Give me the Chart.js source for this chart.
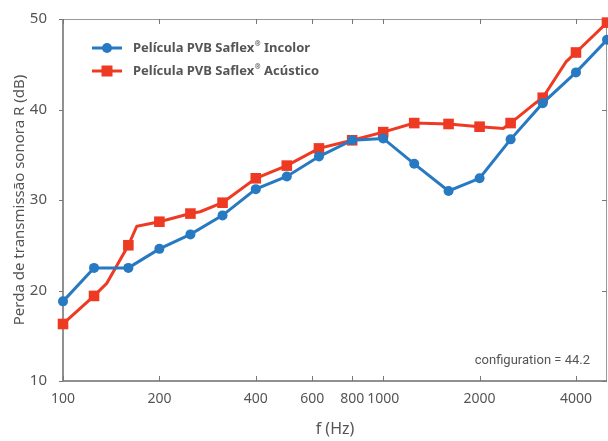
<!DOCTYPE html>
<html>
<head>
<meta charset="utf-8">
<script src="https://cdn.jsdelivr.net/npm/chart.js@4.4.1/dist/chart.umd.min.js"></script>
<style>
html, body { margin: 0; padding: 0; background: #fff; }
</style>
</head>
<body>
<canvas id="chart" width="608" height="441"></canvas>
<script>
// third-octave bands (Hz)
var bands = [100, 125, 160, 200, 250, 315, 400, 500, 630, 800, 1000, 1250, 1600, 2000, 2500, 3150, 4000, 5000];
var incolorValues = [18.8, 22.5, 22.5, 24.6, 26.2, 28.3, 31.2, 32.6, 34.8, 36.6, 36.8, 34.0, 31.0, 32.4, 36.7, 40.7, 44.1, 47.7];

// acoustic curve has a few extra (unmarked) points between the bands
var acusticoFreq = [100, 125, 137, 160, 170, 200, 250, 268, 315, 400, 500, 630, 800, 1000, 1250, 1600, 2000, 2370, 2500, 2985, 3150, 3730, 4000, 5000];
var acusticoValues = [16.3, 19.4, 20.8, 25.0, 27.1, 27.6, 28.5, 28.7, 29.7, 32.4, 33.8, 35.7, 36.6, 37.5, 38.5, 38.4, 38.1, 37.9, 38.5, 40.7, 41.3, 45.3, 46.3, 49.6];

var xTicks = [100, 200, 400, 600, 800, 1000, 2000, 4000];
var yTicks = [10, 20, 30, 40, 50];

var labels = ['Película PVB Saflex', 'Película PVB Saflex'];
var labelTails = [' Incolor', ' Acústico'];
var note = 'configuration = 44.2';

var BLUE = '#2779c2';
var RED = '#ee3a23';
var TEXT = '#555555';

var framePlugin = {
  id: 'frame',
  beforeDatasetsDraw: function(chart) {
    var ctx = chart.ctx, a = chart.chartArea;
    var xs = chart.scales.x, ys = chart.scales.y;
    ctx.save();
    ctx.lineWidth = 1;
    ctx.strokeStyle = '#999999';
    ctx.beginPath();
    ctx.moveTo(a.left, a.top + 0.5); ctx.lineTo(a.right, a.top + 0.5);
    ctx.moveTo(a.right - 0.5, a.top); ctx.lineTo(a.right - 0.5, a.bottom);
    ctx.stroke();
    ctx.strokeStyle = '#6e6e6e';
    ctx.lineWidth = 1.5;
    ctx.beginPath();
    ctx.moveTo(a.left, a.top); ctx.lineTo(a.left, a.bottom);
    ctx.lineTo(a.right, a.bottom);
    ctx.stroke();
    ctx.lineWidth = 1;
    ctx.strokeStyle = '#777777';
    ctx.beginPath();
    xTicks.forEach(function(v) {
      var px = Math.round(xs.getPixelForValue(v)) + 0.5;
      ctx.moveTo(px, a.bottom); ctx.lineTo(px, a.bottom - 5);
      ctx.moveTo(px, a.top); ctx.lineTo(px, a.top + 5);
    });
    yTicks.forEach(function(v) {
      var py = Math.round(ys.getPixelForValue(v)) + 0.5;
      ctx.moveTo(a.left - 4, py); ctx.lineTo(a.left, py);
      ctx.moveTo(a.right, py); ctx.lineTo(a.right - 5, py);
    });
    ctx.stroke();
    ctx.restore();
  },
  afterDraw: function(chart) {
    var ctx = chart.ctx;
    ctx.save();
    // legend
    var rows = [{y: 48, color: BLUE, style: 'circle'}, {y: 71, color: RED, style: 'rect'}];
    rows.forEach(function(r, i) {
      ctx.strokeStyle = r.color;
      ctx.fillStyle = r.color;
      ctx.lineWidth = 3;
      ctx.beginPath();
      ctx.moveTo(92, r.y); ctx.lineTo(122, r.y);
      ctx.stroke();
      if (r.style === 'circle') {
        ctx.beginPath(); ctx.arc(107, r.y, 5, 0, Math.PI * 2); ctx.fill();
      } else {
        ctx.fillRect(101.5, r.y - 5.5, 11, 11);
      }
      ctx.fillStyle = TEXT;
      ctx.textBaseline = 'middle';
      ctx.textAlign = 'left';
      ctx.font = 'bold 13px "Noto Sans"';
      var x = 133;
      ctx.fillText(labels[i], x, r.y);
      x += ctx.measureText(labels[i]).width + 0.5;
      ctx.font = 'bold 7px "Noto Sans"';
      ctx.fillText('®', x, r.y - 4);
      x += ctx.measureText('®').width;
      ctx.font = 'bold 13px "Noto Sans"';
      ctx.fillText(labelTails[i], x, r.y);
    });
    // note
    ctx.font = '13px Roboto';
    ctx.textAlign = 'right';
    ctx.textBaseline = 'middle';
    ctx.fillStyle = TEXT;
    ctx.fillText(note, 590, 361);
    ctx.restore();
  }
};

new Chart(document.getElementById('chart').getContext('2d'), {
  type: 'line',
  data: {
    datasets: [{
      label: labels[0] + '®' + labelTails[0],
      data: bands.map(function(f, i) { return {x: f, y: incolorValues[i]}; }),
      borderColor: BLUE,
      backgroundColor: BLUE,
      pointBackgroundColor: BLUE,
      pointBorderColor: BLUE,
      borderWidth: 3,
      pointRadius: 5,
      pointBorderWidth: 0,
      pointStyle: 'circle',
      clip: false,
      tension: 0
    }, {
      label: labels[1] + '®' + labelTails[1],
      data: acusticoFreq.map(function(f, i) { return {x: f, y: acusticoValues[i]}; }),
      borderColor: RED,
      backgroundColor: RED,
      pointBackgroundColor: RED,
      pointBorderColor: RED,
      borderWidth: 3,
      pointRadius: function(c) { return bands.indexOf(acusticoFreq[c.dataIndex]) >= 0 ? 7.5 : 0; },
      pointBorderWidth: 0,
      pointStyle: 'rect',
      clip: false,
      tension: 0
    }]
  },
  options: {
    responsive: false,
    animation: false,
    layout: { autoPadding: false, padding: { top: 19, right: 1, left: 0, bottom: 0 } },
    plugins: { legend: { display: false }, tooltip: { enabled: false } },
    scales: {
      x: {
        type: 'logarithmic',
        min: 100,
        max: 5000,
        afterBuildTicks: function(s) { s.ticks = xTicks.map(function(v) { return {value: v}; }); },
        afterFit: function(s) { s.height = 60; s.paddingLeft = 0; s.paddingRight = 0; },
        grid: { display: false },
        border: { display: false },
        ticks: {
          autoSkip: false,
          maxRotation: 0,
          padding: 2,
          color: TEXT,
          font: { family: 'Noto Sans', size: 14 },
          callback: function(v) { return String(v); }
        },
        title: {
          display: true,
          text: 'f (Hz)',
          color: TEXT,
          font: { family: 'Noto Sans', size: 16 },
          padding: { top: 0, bottom: 2 }
        }
      },
      y: {
        min: 10,
        max: 50,
        afterBuildTicks: function(s) { s.ticks = yTicks.map(function(v) { return {value: v}; }); },
        afterFit: function(s) { s.width = 63; },
        grid: { display: false },
        border: { display: false },
        ticks: {
          padding: 8,
          color: TEXT,
          font: { family: 'Noto Sans', size: 15 }
        },
        title: {
          display: true,
          text: 'Perda de transmissão sonora R (dB)',
          color: TEXT,
          font: { family: 'Noto Sans', size: 15 },
          padding: { top: 11, bottom: 0 }
        }
      }
    }
  },
  plugins: [framePlugin]
});
</script>
</body>
</html>
